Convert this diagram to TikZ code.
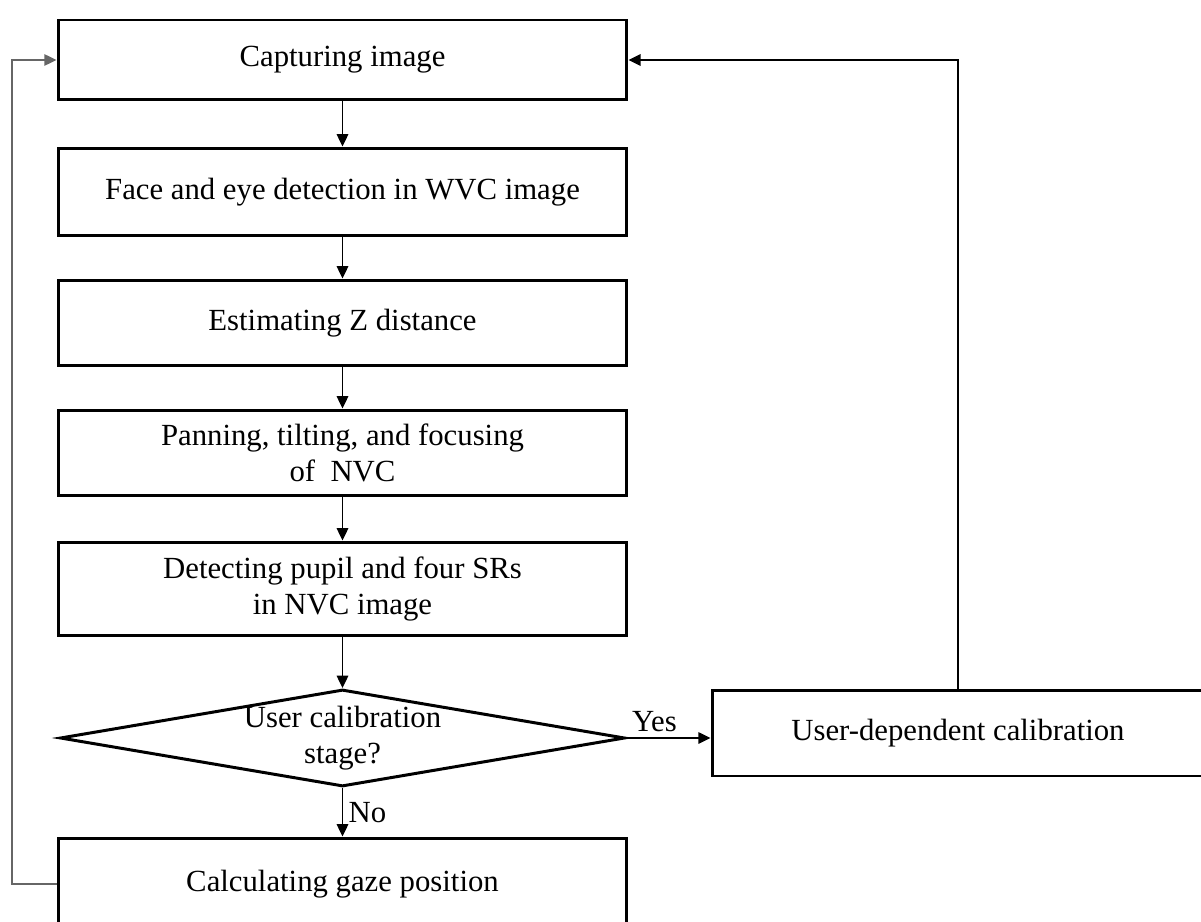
\documentclass[tikz,border=0pt]{standalone}
\usepackage{fontspec}
\setmainfont{Liberation Serif}
\usepackage{tikz}
\usetikzlibrary{arrows.meta,positioning,shapes.geometric,calc}

\begin{document}
\begin{tikzpicture}[
  x=0.02cm, y=-0.02cm,
  font=\fontsize{17.5}{20.5}\selectfont,
  box/.style={draw, line width=1.7pt, minimum width=11.38cm,
              minimum height=#1, align=center, inner sep=2pt},
  decision/.style={draw, diamond, line width=1.7pt, aspect=5.9,
                   minimum width=11.3cm, minimum height=1.94cm,
                   inner sep=-1.5pt, align=center},
  flow/.style={line width=1.1pt, -{Triangle[length=7pt,width=6.5pt]}},
  back/.style={line width=1pt, gray!80!black, -{Triangle[length=7pt,width=6.5pt]}},
]
\useasboundingbox (0,0) rectangle (1201,922);

% main column
\node[box=1.6cm]  (cap)  at (342.5,60)  {Capturing image};
\node[box=1.76cm] (face) at (342.5,192) {Face and eye detection in WVC image};
\node[box=1.72cm] (est)  at (342.5,323) {Estimating Z distance};
\node[box=1.72cm] (pan)  at (342.5,453) {Panning, tilting, and focusing\\of~~NVC};
\node[box=1.88cm] (det)  at (342.5,589) {Detecting pupil and four SRs\\in NVC image};
\node[decision]   (diam) at (342.5,738) {User calibration\\stage?};
\node[box=1.84cm] (calc) at (342.5,884) {Calculating gaze position};

% calibration branch
\node[box=1.72cm, minimum width=9.84cm] (user) at (958,733) {User-dependent calibration};

\draw[flow] (cap) -- (face);
\draw[flow] (face) -- (est);
\draw[flow] (est) -- (pan);
\draw[flow] (pan) -- (det);
\draw[flow] (det) -- (diam);
\draw[flow] (diam.south) -- node[right, inner sep=3pt] {No} (calc.north);
\draw[flow] (diam.east) -- node[above, inner sep=3pt, xshift=-8pt] {Yes} (diam.east -| user.west);

% loops back to the top
\coordinate (lft) at (12,0);
\draw[back] (calc.west) -- (calc.west -| lft) |- (cap.west);
\draw[flow, line width=1.4pt] (user.north) |- (cap.east);
\end{tikzpicture}
\end{document}
